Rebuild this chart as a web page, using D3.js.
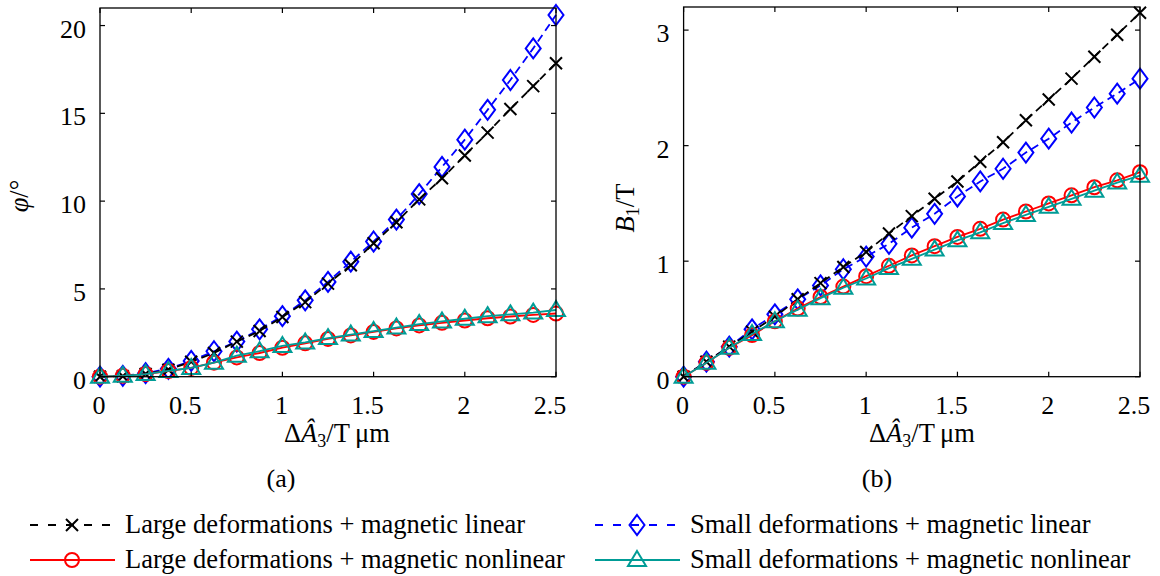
<!DOCTYPE html>
<html><head><meta charset="utf-8">
<script src="https://cdn.jsdelivr.net/npm/d3@7"></script>
<style>body{margin:0;background:#fff}</style>
</head><body><svg id="c" width="1160" height="576"></svg>
<script>
// ---------- data ----------
const xValues = [0,0.125,0.25,0.375,0.5,0.625,0.75,0.875,1,1.125,1.25,1.375,1.5,1.625,1.75,1.875,2,2.125,2.25,2.375,2.5];

const phiLargeLinear    = [0,0.03,0.15,0.4,0.85,1.35,2.0,2.6,3.4,4.25,5.3,6.35,7.6,8.8,10.1,11.3,12.6,13.9,15.25,16.55,17.85];
const phiSmallLinear    = [0,0.05,0.2,0.45,0.9,1.45,2.0,2.7,3.45,4.35,5.4,6.55,7.7,8.95,10.4,11.95,13.5,15.2,16.9,18.7,20.6];
const phiLargeNonlinear = [0,0.05,0.15,0.32,0.5,0.8,1.1,1.35,1.65,1.9,2.15,2.35,2.55,2.75,2.92,3.07,3.2,3.33,3.43,3.52,3.6];
const phiSmallNonlinear = [0,0.05,0.15,0.33,0.5,0.8,1.2,1.45,1.75,1.95,2.2,2.4,2.6,2.8,3.0,3.15,3.3,3.45,3.55,3.65,3.8];

const bLargeLinear    = [0,0.13,0.26,0.39,0.52,0.67,0.81,0.95,1.08,1.24,1.39,1.54,1.69,1.86,2.03,2.22,2.40,2.58,2.77,2.96,3.15];
const bSmallLinear    = [0,0.13,0.26,0.41,0.54,0.67,0.79,0.93,1.04,1.15,1.29,1.41,1.56,1.69,1.80,1.94,2.06,2.20,2.33,2.45,2.58];
const bLargeNonlinear = [0,0.12,0.25,0.36,0.48,0.59,0.69,0.78,0.87,0.96,1.05,1.13,1.21,1.28,1.36,1.43,1.50,1.57,1.64,1.70,1.77];
const bSmallNonlinear = [0,0.12,0.25,0.37,0.48,0.58,0.68,0.77,0.85,0.94,1.02,1.10,1.18,1.25,1.33,1.40,1.47,1.54,1.61,1.68,1.74];

const xTicks = [0,0.5,1,1.5,2,2.5];
const xTickLabels = ["0","0.5","1","1.5","2","2.5"];
const phiTicks = [0,5,10,15,20];
const phiTickLabels = ["0","5","10","15","20"];
const bTicks = [0,1,2,3];
const bTickLabels = ["0","1","2","3"];

const seriesNames = [
  "Large deformations + magnetic linear",
  "Small deformations + magnetic linear",
  "Large deformations + magnetic nonlinear",
  "Small deformations + magnetic nonlinear"
];
const panelTags = ["(a)","(b)"];

// ---------- styles ----------
const FONT = "'Liberation Serif','Times New Roman',serif";
const styles = {
  LL: {color:"#000000", dash:"8,5", legendDash:"8,10", marker:"x"},
  SL: {color:"#0000ff", dash:"8,5", legendDash:"8,10", marker:"d"},
  LN: {color:"#ff0000", dash:null, legendDash:null, marker:"o"},
  SN: {color:"#009c96", dash:null, legendDash:null, marker:"t"}
};

const svg = d3.select("#c");

function markerPath(type){
  switch(type){
    case "x": return "M-6,-6L6,6M-6,6L6,-6";
    case "d": return "M0,-10L7.5,0L0,10L-7.5,0Z";
    case "o": { const p=d3.path(); p.arc(0,0,7,0,2*Math.PI); p.closePath(); return p.toString(); }
    case "t": return "M0,-9L9,6L-9,6Z";
  }
}

function drawPanel(cfg){
  const g = svg.append("g");
  const x = d3.scaleLinear().domain([0,2.5]).range([cfg.left, cfg.right]);
  const y = d3.scaleLinear().domain([0,cfg.ymax]).range([cfg.bottom, cfg.top]);

  const order = ["SL","LL","LN","SN"];
  order.forEach(k=>{
    const vals = cfg.series[k];
    const st = styles[k];
    const data = xValues.map((xv,i)=>[xv, vals[i]]);
    g.append("path").datum(data)
      .attr("d", d3.line().x(d=>x(d[0])).y(d=>y(d[1])))
      .attr("fill","none").attr("stroke",st.color).attr("stroke-width",1.8)
      .attr("stroke-dasharray", st.dash);
    g.selectAll(null).data(data).enter().append("path")
      .attr("transform", d=>`translate(${x(d[0])},${y(d[1])})`)
      .attr("d", markerPath(st.marker))
      .attr("fill","none").attr("stroke",st.color).attr("stroke-width",2);
  });

  g.append("rect").attr("x",cfg.left).attr("y",cfg.top)
    .attr("width",cfg.right-cfg.left).attr("height",cfg.bottom-cfg.top)
    .attr("fill","none").attr("stroke","#000").attr("stroke-width",1.3);

  const tl = 5;
  xTicks.forEach((t,i)=>{
    const px = x(t);
    g.append("line").attr("x1",px).attr("x2",px).attr("y1",cfg.bottom).attr("y2",cfg.bottom-tl).attr("stroke","#000").attr("stroke-width",1.2);
    g.append("line").attr("x1",px).attr("x2",px).attr("y1",cfg.top).attr("y2",cfg.top+tl).attr("stroke","#000").attr("stroke-width",1.2);
    const lab = xTickLabels[i];
    g.append("text").attr("x",px + (lab.includes(".") ? -6 : -1)).attr("y",cfg.bottom+37)
      .attr("text-anchor","middle").attr("font-family",FONT).attr("font-size",26).text(lab);
  });
  cfg.yTicks.forEach((t,i)=>{
    const py = y(t);
    g.append("line").attr("x1",cfg.left).attr("x2",cfg.left+tl).attr("y1",py).attr("y2",py).attr("stroke","#000").attr("stroke-width",1.2);
    g.append("line").attr("x1",cfg.right).attr("x2",cfg.right-tl).attr("y1",py).attr("y2",py).attr("stroke","#000").attr("stroke-width",1.2);
    g.append("text").attr("x",cfg.left-14).attr("y",py+12)
      .attr("text-anchor","end").attr("font-family",FONT).attr("font-size",26).text(cfg.yTickLabels[i]);
  });

  const xl = g.append("text").attr("x",cfg.xLabelX).attr("y",442)
    .attr("text-anchor","middle").attr("font-family",FONT).attr("font-size",26.5);
  xl.append("tspan").text("\u0394");
  xl.append("tspan").attr("font-style","italic").text("\u00C2");
  xl.append("tspan").attr("font-size",18).attr("dy",5).text("3");
  xl.append("tspan").attr("dy",-5).text("/T\u2009\u03BCm");

  g.append("text").attr("x",cfg.tagX).attr("y",487).attr("text-anchor","middle")
    .attr("font-family",FONT).attr("font-size",26).text(cfg.tag);

  const yl = g.append("text").attr("transform",`translate(${cfg.yLabelX},${cfg.yLabelY}) rotate(-90)`)
    .attr("text-anchor","middle").attr("font-family",FONT).attr("font-size",26.5);
  cfg.yLabel(yl);
}

drawPanel({
  left:100, right:556, top:8, bottom:376.7, ymax:21,
  yTicks:phiTicks, yTickLabels:phiTickLabels,
  series:{LL:phiLargeLinear, SL:phiSmallLinear, LN:phiLargeNonlinear, SN:phiSmallNonlinear},
  xLabelX:337, tagX:281, tag:panelTags[0], yLabelX:28, yLabelY:196,
  yLabel:(t)=>{ t.append("tspan").attr("font-style","italic").text("\u03C6"); t.append("tspan").text("/\u00B0"); }
});
drawPanel({
  left:683.6, right:1140, top:7, bottom:376.7, ymax:3.2,
  yTicks:bTicks, yTickLabels:bTickLabels,
  series:{LL:bLargeLinear, SL:bSmallLinear, LN:bLargeNonlinear, SN:bSmallNonlinear},
  xLabelX:922, tagX:877, tag:panelTags[1], yLabelX:634, yLabelY:208,
  yLabel:(t)=>{ t.append("tspan").attr("font-style","italic").text("B"); t.append("tspan").attr("font-size",18).attr("dy",5).text("1"); t.append("tspan").attr("dy",-5).text("/T"); }
});

// ---------- legend ----------
const legendItems = [
  {k:"LL", name:seriesNames[0], x:30, y:525},
  {k:"LN", name:seriesNames[2], x:30, y:560},
  {k:"SL", name:seriesNames[1], x:595, y:525},
  {k:"SN", name:seriesNames[3], x:595, y:560}
];
const lg = svg.append("g");
legendItems.forEach(it=>{
  const st = styles[it.k];
  lg.append("line").attr("x1",it.x).attr("x2",it.x+85).attr("y1",it.y).attr("y2",it.y)
    .attr("stroke",st.color).attr("stroke-width",1.8).attr("stroke-dasharray",st.legendDash);
  lg.append("path").attr("transform",`translate(${it.x+42},${it.y})`).attr("d",markerPath(st.marker))
    .attr("fill", st.marker==="x" ? "#fff" : "none").attr("stroke",st.color).attr("stroke-width",2);
  lg.append("text").attr("x",it.x+95).attr("y",it.y+8).attr("font-family",FONT).attr("font-size",26.5).text(it.name);
});
</script></body></html>
